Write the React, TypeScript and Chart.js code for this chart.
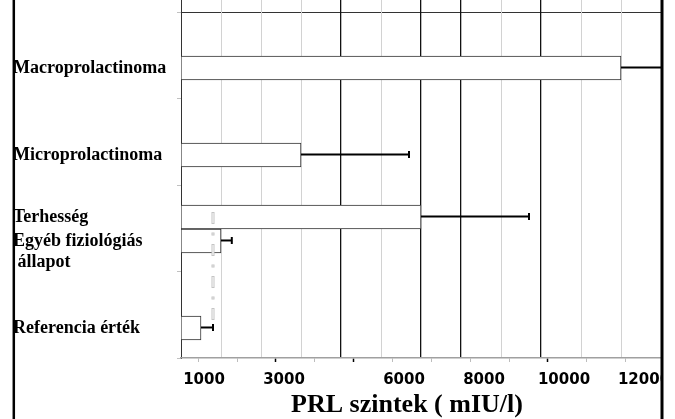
import React, { useEffect, useRef } from 'react';
import { Chart, registerables } from 'chart.js';

Chart.register(...registerables);

// ---- data ----
const categories = [
  'Macroprolactinoma',
  'Microprolactinoma',
  'Terhesség',
  'Egyéb fiziológiás\n állapot',
  'Referencia érték',
];
const rowPositions = [0.647, 1.653, 2.37, 2.647, 3.653];
const meanValues = [11000, 3000, 6000, 1000, 500];
const errorValues = [1500, 2700, 2700, 270, 300];
const tickLabels = ['1000', '3000', '6000', '8000', '10000', '12000'];
const darkGridValues = [4000, 6000, 7000, 9000];
const rowTicks = [0, 1, 2, 3, 4];
const minorTicks = [0, 1, 2, 3, 4, 5, 6, 7, 8, 9, 10, 11];
const majorMinorTicks = [2, 4, 9];
const dashedMarkerValue = 800;
const dashedMarkerRange = [2.312, 3.561];
const xTitle = 'PRL szintek ( mIU/l)';

const decorPlugin = {
  id: 'decor',
  afterDatasetsDraw(chart: any) {
    const { ctx, chartArea } = chart;
    const xs = chart.scales.x;
    const ys = chart.scales.y;
    const meta = chart.getDatasetMeta(0);

    // dashed marker line
    ctx.save();
    const dx = xs.getPixelForValue(dashedMarkerValue);
    const y1 = ys.getPixelForValue(dashedMarkerRange[0]);
    const y2 = ys.getPixelForValue(dashedMarkerRange[1]);
    ctx.setLineDash([12, 8.5, 3, 8.5]);
    ctx.lineWidth = 3;
    ctx.strokeStyle = '#c4c4c4';
    ctx.beginPath();
    ctx.moveTo(dx, y1);
    ctx.lineTo(dx, y2);
    ctx.stroke();
    ctx.setLineDash([10, 10.5, 1, 10.5]);
    ctx.lineDashOffset = -1;
    ctx.lineWidth = 1;
    ctx.strokeStyle = '#ffffff';
    ctx.beginPath();
    ctx.moveTo(dx, y1);
    ctx.lineTo(dx, y2);
    ctx.stroke();
    ctx.restore();

    // error bars
    ctx.save();
    ctx.beginPath();
    ctx.rect(0, 0, chartArea.right, chart.height);
    ctx.clip();
    ctx.strokeStyle = '#000';
    ctx.lineWidth = 2;
    meta.data.forEach((bar: any, i: number) => {
      const xEnd = xs.getPixelForValue(meanValues[i] + errorValues[i]);
      const y = bar.y - 0.5;
      ctx.beginPath();
      ctx.moveTo(bar.x, y);
      ctx.lineTo(xEnd, y);
      ctx.stroke();
      ctx.beginPath();
      ctx.moveTo(xEnd, y - 3.5);
      ctx.lineTo(xEnd, y + 3.5);
      ctx.stroke();
    });
    ctx.restore();
  },
  afterDraw(chart: any) {
    const { ctx, chartArea } = chart;
    const ys = chart.scales.y;
    ctx.save();
    // category labels
    ctx.fillStyle = '#000';
    ctx.font = 'bold 18px "Liberation Serif", "Times New Roman", serif';
    ctx.textAlign = 'left';
    ctx.textBaseline = 'middle';
    categories.forEach((c, i) => {
      const y0 = ys.getPixelForValue(rowPositions[i]);
      c.split('\n').forEach((line, k) => {
        ctx.fillText(line, 13, y0 + k * 21);
      });
    });
    // axis title
    ctx.font = 'bold 26px "Liberation Serif", "Times New Roman", serif';
    ctx.textAlign = 'center';
    ctx.fillText(xTitle, (chartArea.left + chartArea.right) / 2 - 14, chart.height - 14);
    // mask tick label overflow beyond the right frame
    ctx.fillStyle = '#ffffff';
    ctx.fillRect(chartArea.right + 2, chartArea.bottom + 1, chart.width - chartArea.right, chart.height);
    // frame lines
    ctx.strokeStyle = '#000';
    ctx.lineWidth = 2.5;
    ctx.beginPath();
    ctx.moveTo(13.8, 0);
    ctx.lineTo(13.8, chart.height);
    ctx.stroke();
    ctx.lineWidth = 3;
    ctx.beginPath();
    ctx.moveTo(chartArea.right + 1, 0);
    ctx.lineTo(chartArea.right + 1, chart.height);
    ctx.stroke();
    ctx.restore();
  },
};

export default function App() {
  const canvasRef = useRef<HTMLCanvasElement | null>(null);

  useEffect(() => {
    if (!canvasRef.current) return;
    const chart = new Chart(canvasRef.current, {
      type: 'bar',
      data: {
        datasets: [
          {
            xAxisID: 'x',
            yAxisID: 'y',
            data: rowPositions.map((p, i) => ({ x: meanValues[i], y: p })),
            backgroundColor: '#ffffff',
            borderColor: '#333333',
            borderWidth: 1,
            barThickness: 24,
          },
        ],
      },
      options: {
        indexAxis: 'y',
        animation: false,
        responsive: true,
        maintainAspectRatio: false,
        layout: { padding: { left: 0, right: 14, top: 0, bottom: 0 } },
        plugins: {
          legend: { display: false },
          tooltip: { enabled: false },
        },
        scales: {
          y: {
            type: 'linear',
            reverse: true,
            offset: false,
            min: -0.139,
            max: 4,
            afterBuildTicks: (scale: any) => {
              scale.ticks = rowTicks.map((v) => ({ value: v }));
            },
            afterFit: (scale: any) => {
              scale.width = 181;
              scale.paddingTop = 0;
              scale.paddingBottom = 0;
            },
            ticks: { display: false },
            grid: {
              offset: false,
              color: (ctx: any) => (ctx.tick && ctx.tick.value === 0 ? '#333333' : 'rgba(0,0,0,0)'),
              lineWidth: 1,
              drawTicks: true,
              tickLength: 4,
              tickColor: '#c0c0c0',
            },
            border: { display: true, color: '#333333', width: 1 },
          },
          xt: {
            type: 'linear',
            position: 'bottom',
            weight: 0,
            offset: false,
            min: -0.445,
            max: 11.91,
            afterBuildTicks: (scale: any) => {
              scale.ticks = minorTicks.map((v) => ({ value: v }));
            },
            afterFit: (scale: any) => {
              scale.height = 6;
              scale.paddingLeft = 0;
              scale.paddingRight = 0;
            },
            ticks: { display: false },
            grid: {
              offset: false,
              drawOnChartArea: false,
              drawTicks: true,
              tickLength: 4,
              tickColor: (ctx: any) =>
                ctx.tick && majorMinorTicks.includes(ctx.tick.value) ? '#000000' : '#bdbdbd',
              tickWidth: (ctx: any) =>
                ctx.tick && majorMinorTicks.includes(ctx.tick.value) ? 1.5 : 1,
            },
            border: { display: true, color: '#a0a0a0', width: 1.5 },
          },
          x: {
            type: 'linear',
            position: 'bottom',
            weight: 1,
            offset: false,
            min: 0,
            max: 12000,
            afterFit: (scale: any) => {
              scale.height = 55;
              scale.paddingLeft = 0;
              scale.paddingRight = 0;
            },
            ticks: {
              stepSize: 1000,
              autoSkip: false,
              maxRotation: 0,
              minRotation: 0,
              labelOffset: -17,
              padding: 7,
              color: '#000',
              font: { family: '"DejaVu Sans", sans-serif', weight: 'bold', size: 15 },
              callback: (value: any) => (tickLabels.includes(String(value)) ? String(value) : ''),
            },
            grid: {
              offset: false,
              drawTicks: false,
              color: (ctx: any) => {
                const v = ctx.tick ? ctx.tick.value : -1;
                if (v === 0 || v === 12000) return 'rgba(0,0,0,0)';
                return darkGridValues.includes(v) ? '#111111' : '#d2d2d2';
              },
              lineWidth: (ctx: any) => {
                const v = ctx.tick ? ctx.tick.value : -1;
                return darkGridValues.includes(v) ? 1.3 : 1;
              },
            },
            border: { display: false },
          },
        },
      },
      plugins: [decorPlugin],
    } as any);
    return () => chart.destroy();
  }, []);

  return (
    <div style={{ position: 'absolute', left: 0, top: 0, width: 675, height: 419, background: '#fff' }}>
      <canvas ref={canvasRef} />
    </div>
  );
}
